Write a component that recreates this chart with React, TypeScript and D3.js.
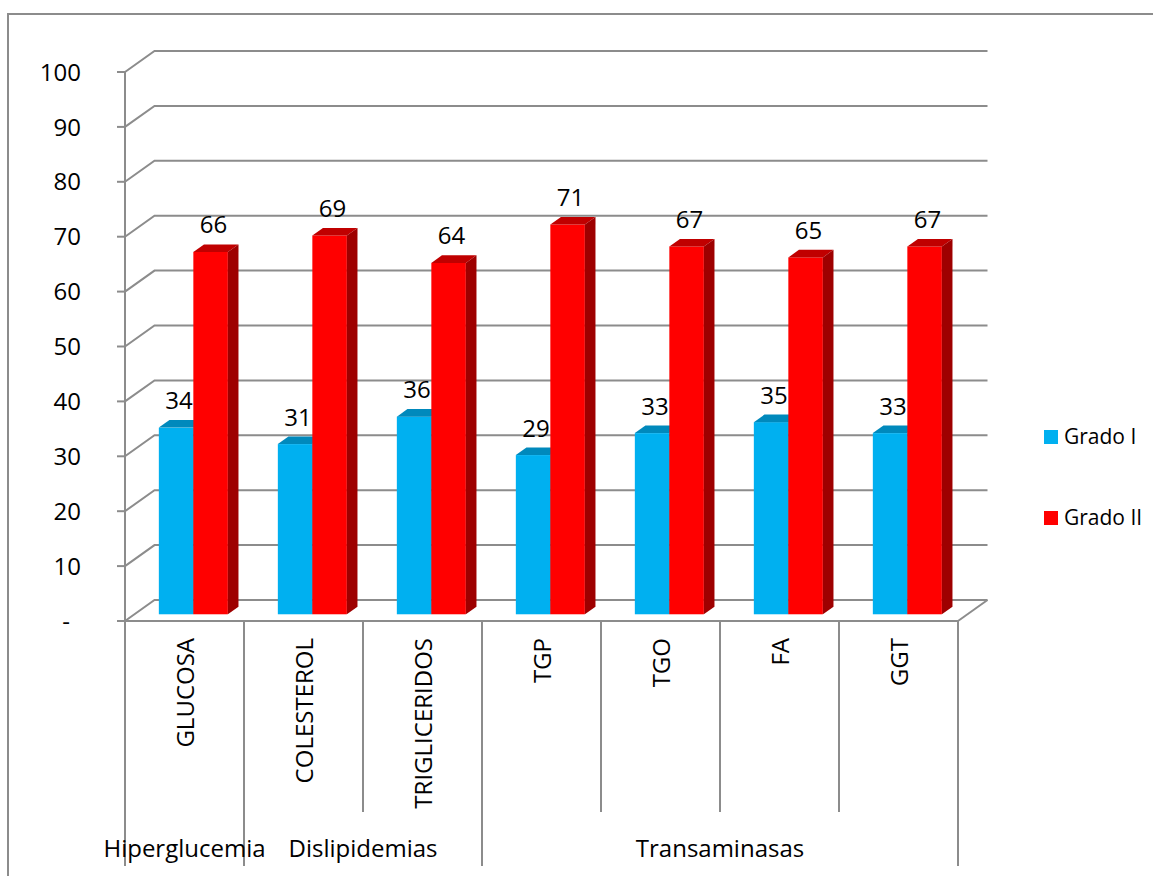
import React from 'react';
import * as d3 from 'd3';

const categories = ['GLUCOSA', 'COLESTEROL', 'TRIGLICERIDOS', 'TGP', 'TGO', 'FA', 'GGT'];
const groupNames = ['Hiperglucemia', 'Dislipidemias', 'Transaminasas'];
const groupSizes = [1, 2, 4];
const seriesNames = ['Grado I', 'Grado II'];
const gradoI = [34, 31, 36, 29, 33, 35, 33];
const gradoII = [66, 69, 64, 71, 67, 65, 67];
const yTicks = [0, 10, 20, 30, 40, 50, 60, 70, 80, 90, 100];
const yTickLabels = ['-', '10', '20', '30', '40', '50', '60', '70', '80', '90', '100'];

const W = 1153;
const H = 876;
const FONT = "'Open Sans', sans-serif";
const GRID = '#8c8c8c';

const faceColors = ['#00B0F0', '#FF0000'];
const topColors = ['#0089BC', '#C00000'];
const sideColors = ['#007AA8', '#9E0000'];

export default function App() {
  const x0 = 125;
  const x1 = 958;
  const dx = 29.5;
  const dy = -21;
  const t0 = 0.32;
  const t1 = 0.68;
  const y = d3.scaleLinear().domain([0, 100]).range([621, 72]);
  const xc = d3.scaleBand<string>().domain(categories).range([x0, x1]).padding(0);
  const bw = xc.bandwidth();
  const xs = d3.scaleBand<string>().domain(seriesNames).range([bw * 0.205, bw * 0.785]).padding(0);
  const sw = xs.bandwidth();
  const ddx = (t1 - t0) * dx;
  const ddy = (t1 - t0) * dy;
  const series = [gradoI, gradoII];

  // group boundaries
  const groupBounds: { name: string; start: number; end: number }[] = [];
  let acc = 0;
  groupNames.forEach((g, i) => {
    groupBounds.push({ name: g, start: acc, end: acc + groupSizes[i] });
    acc += groupSizes[i];
  });
  const longIdx = new Set<number>();
  groupBounds.forEach(g => { longIdx.add(g.start); longIdx.add(g.end); });

  const bars: React.ReactNode[] = [];
  const labels: React.ReactNode[] = [];
  categories.forEach((c, ci) => {
    series.forEach((vals, si) => {
      const v = vals[ci];
      const fx = (xc(c) as number) + (xs(seriesNames[si]) as number) + t0 * dx;
      const yb = y(0) + t0 * dy;
      const yt = y(v) + t0 * dy;
      bars.push(
        <g key={`b${ci}-${si}`}>
          <rect x={fx} y={yt} width={sw} height={yb - yt} fill={faceColors[si]} />
          <path d={`M${fx},${yt}L${fx + sw},${yt}L${fx + sw + ddx},${yt + ddy}L${fx + ddx},${yt + ddy}Z`} fill={topColors[si]} />
          <path d={`M${fx + sw},${yt}L${fx + sw + ddx},${yt + ddy}L${fx + sw + ddx},${yb + ddy}L${fx + sw},${yb}Z`} fill={sideColors[si]} />
        </g>
      );
      labels.push(
        <text key={`l${ci}-${si}`} x={fx + sw / 2 + 3} y={yt + ddy - 11} textAnchor="middle" fontSize={24} fontFamily={FONT} fill="#000">
          {v}
        </text>
      );
    });
  });

  return (
    <svg width={W} height={H} style={{ position: 'absolute', left: 0, top: 0, background: '#fff' }}>
      <rect x={0} y={0} width={W} height={H} fill="#fff" />
      <path d={`M8,${H + 5}V14H${W + 5}`} fill="none" stroke={GRID} strokeWidth={2} />
      {/* gridlines on back wall */}
      {yTicks.map(v => (
        <path key={`g${v}`} d={`M${x0},${y(v)}L${x0 + dx},${y(v) + dy}L${x1 + dx},${y(v) + dy}`} fill="none" stroke={GRID} strokeWidth={2} />
      ))}
      {/* floor */}
      <path d={`M${x1},${y(0)}L${x1 + dx},${y(0) + dy}`} fill="none" stroke={GRID} strokeWidth={2} />
      {bars}
      <path d={`M${x0},${y(0)}H${x1}`} fill="none" stroke={GRID} strokeWidth={2} />
      {/* y axis */}
      <path d={`M${x0},${y(100)}V${y(0)}`} fill="none" stroke={GRID} strokeWidth={2} />
      {yTicks.map((v, i) => (
        <g key={`t${v}`}>
          <path d={`M${x0 - 8},${y(v)}H${x0}`} stroke={GRID} strokeWidth={2} />
          <text x={i === 0 ? 70 : 81} y={y(v)} dy="0.36em" textAnchor="end" fontSize={24} fontFamily={FONT} fill="#000">
            {yTickLabels[i]}
          </text>
        </g>
      ))}
      {labels}
      {/* category dividers */}
      {d3.range(categories.length + 1).map(i => {
        const xx = x0 + i * bw;
        return <path key={`d${i}`} d={`M${xx},${y(0)}V${longIdx.has(i) ? 866 : 812}`} stroke={GRID} strokeWidth={2} />;
      })}
      {categories.map(c => {
        const cx = (xc(c) as number) + bw / 2;
        return (
          <text key={`c${c}`} transform={`translate(${cx},638) rotate(-90)`} textAnchor="end" dominantBaseline="central" fontSize={24} fontFamily={FONT} fill="#000">
            {c}
          </text>
        );
      })}
      {groupBounds.map(g => (
        <text key={`gr${g.name}`} x={x0 + ((g.start + g.end) / 2) * bw} y={857} textAnchor="middle" fontSize={24} fontFamily={FONT} fill="#000">
          {g.name}
        </text>
      ))}
      {/* legend */}
      {seriesNames.map((s, i) => (
        <g key={`lg${s}`} transform={`translate(1044,${430 + i * 81})`}>
          <rect x={0} y={0} width={14} height={14} fill={faceColors[i]} />
          <text x={20} y={14} fontSize={21} fontFamily={FONT} fill="#000">{s}</text>
        </g>
      ))}
    </svg>
  );
}
